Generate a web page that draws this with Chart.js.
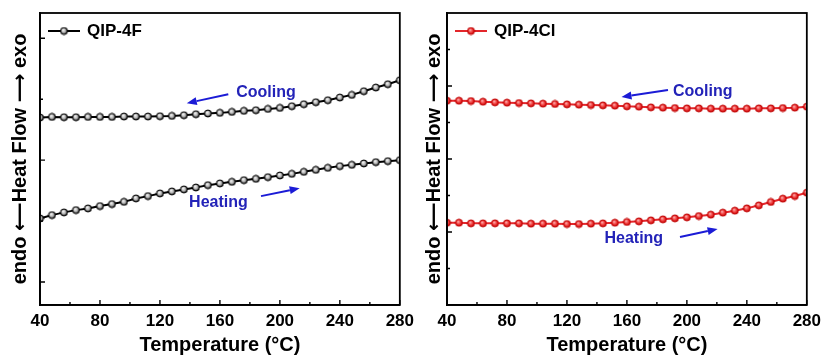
<!DOCTYPE html>
<html><head><meta charset="utf-8">
<script src="https://cdn.jsdelivr.net/npm/chart.js@4.4.0/dist/chart.umd.min.js"></script>
<style>
html,body{margin:0;padding:0;background:#fff;width:827px;height:358px;overflow:hidden}
.box{position:absolute;top:0;height:358px}
#b1{left:0;width:420px}
#b2{left:415px;width:412px}
</style></head><body>
<div class="box" id="b1"><canvas id="c1"></canvas></div>
<div class="box" id="b2"><canvas id="c2"></canvas></div>
<script>
// ---------- data (y in arbitrary heat-flow units) ----------
const temperatures = [40,48,56,64,72,80,88,96,104,112,120,128,136,144,152,160,168,176,184,192,200,208,216,224,232,240,248,256,264,272,280];

const qip4fCooling = [3.700,3.710,3.705,3.705,3.710,3.710,3.710,3.716,3.716,3.716,3.721,3.726,3.738,3.754,3.766,3.776,3.792,3.809,3.820,3.841,3.857,3.885,3.918,3.951,3.984,4.028,4.071,4.131,4.192,4.246,4.311];
const qip4fHeating = [2.044,2.098,2.143,2.180,2.208,2.246,2.279,2.316,2.372,2.410,2.454,2.487,2.520,2.552,2.590,2.618,2.644,2.672,2.693,2.721,2.749,2.775,2.808,2.841,2.874,2.902,2.923,2.946,2.967,2.984,3.000];

const qip4clCooling = [5.597,5.597,5.589,5.570,5.553,5.543,5.534,5.525,5.516,5.507,5.498,5.489,5.479,5.470,5.461,5.443,5.434,5.415,5.406,5.397,5.388,5.388,5.379,5.379,5.379,5.379,5.388,5.388,5.397,5.406,5.434];
const qip4clHeating = [2.255,2.255,2.237,2.237,2.237,2.237,2.237,2.228,2.228,2.228,2.219,2.219,2.228,2.237,2.255,2.274,2.292,2.320,2.347,2.374,2.402,2.438,2.475,2.530,2.584,2.648,2.731,2.822,2.913,2.986,3.078];

const seriesNames = ['QIP-4F', 'QIP-4Cl'];
const xTickValues = [40,80,120,160,200,240,280];
const xMinorTickValues = [60,100,140,180,220,260];
const leftYMajor = [1,3,5];
const leftYMinor = [2,4];
const rightYMajor = [2,4,6];
const rightYMinor = [1,3,5,7];
const xAxisTitle = 'Temperature (°C)';
const yAxisTitle = 'endo ⟵Heat Flow ⟶ exo';

// annotations in data units
const leftNotes = [{text:'Cooling', x:190.7, y:4.115}, {text:'Heating', x:159, y:2.311}];
const leftArrows = [{x1:165.6, y1:4.082, x2:137.9, y2:3.934}, {x1:187.4, y1:2.41, x2:213.2, y2:2.541}];
const rightNotes = [{text:'Cooling', x:210.6, y:5.836}, {text:'Heating', x:164.6, y:1.808}];
const rightArrows = [{x1:187.4, y1:5.89, x2:156.4, y2:5.70}, {x1:195.4, y1:1.863, x2:220.5, y2:2.082}];

// ---------- styling ----------
const FONT = '"Liberation Sans", Arial, "DejaVu Sans", sans-serif';
const BLUE_TEXT = '#2323b8';
const BLUE_ARROW = '#1b1bd6';

function sphere(edge, mid, hi, r) {
  const s = Math.ceil(r * 2) + 2;
  const c = document.createElement('canvas');
  c.width = s; c.height = s;
  const g = c.getContext('2d');
  const cx = s / 2, cy = s / 2;
  const grad = g.createRadialGradient(cx - r * 0.3, cy - r * 0.35, 0, cx, cy, r);
  grad.addColorStop(0, hi);
  grad.addColorStop(0.6, mid);
  grad.addColorStop(1, edge);
  g.fillStyle = grad;
  g.beginPath(); g.arc(cx, cy, r, 0, Math.PI * 2); g.fill();
  g.strokeStyle = edge; g.lineWidth = 1; g.stroke();
  return c;
}

function toPts(ys) { return temperatures.map((t, i) => ({x: t, y: ys[i]})); }

function decorPlugin(cfg) {
  return {
    id: 'decor',
    afterDatasetsDraw(chart) {
      const ctx = chart.ctx, a = chart.chartArea;
      const xs = chart.scales.x, ys = chart.scales.y;
      ctx.save();
      // frame
      ctx.strokeStyle = '#000'; ctx.lineWidth = 1.8;
      ctx.strokeRect(a.left, a.top, a.right - a.left, a.bottom - a.top);
      // ticks (inward)
      ctx.lineWidth = 1.4;
      ctx.beginPath();
      xTickValues.forEach(v => { const p = xs.getPixelForValue(v); ctx.moveTo(p, a.bottom); ctx.lineTo(p, a.bottom - 5); });
      xMinorTickValues.forEach(v => { const p = xs.getPixelForValue(v); ctx.moveTo(p, a.bottom); ctx.lineTo(p, a.bottom - 3); });
      cfg.yMajor.forEach(v => { const p = ys.getPixelForValue(v); ctx.moveTo(a.left, p); ctx.lineTo(a.left + 5, p); });
      cfg.yMinor.forEach(v => { const p = ys.getPixelForValue(v); ctx.moveTo(a.left, p); ctx.lineTo(a.left + 3, p); });
      ctx.stroke();
      // legend
      const ly = a.top + 18;
      ctx.strokeStyle = cfg.color; ctx.lineWidth = 2;
      ctx.beginPath(); ctx.moveTo(a.left + 8, ly); ctx.lineTo(a.left + 40, ly); ctx.stroke();
      ctx.drawImage(cfg.marker, a.left + 24 - cfg.marker.width / 2, ly - cfg.marker.height / 2);
      ctx.fillStyle = '#000';
      ctx.font = 'bold 17px ' + FONT;
      ctx.textAlign = 'left'; ctx.textBaseline = 'middle';
      ctx.fillText(cfg.name, a.left + 47, ly);
      // annotations
      ctx.font = 'bold 16px ' + FONT;
      ctx.textAlign = 'center';
      ctx.fillStyle = BLUE_TEXT;
      cfg.notes.forEach(n => ctx.fillText(n.text, xs.getPixelForValue(n.x), ys.getPixelForValue(n.y)));
      ctx.strokeStyle = BLUE_ARROW; ctx.fillStyle = BLUE_ARROW; ctx.lineWidth = 2;
      cfg.arrows.forEach(ar => {
        const x1 = xs.getPixelForValue(ar.x1), y1 = ys.getPixelForValue(ar.y1);
        const x2 = xs.getPixelForValue(ar.x2), y2 = ys.getPixelForValue(ar.y2);
        const ang = Math.atan2(y2 - y1, x2 - x1);
        const hl = 10, hw = 4;
        const bx = x2 - hl * Math.cos(ang), by = y2 - hl * Math.sin(ang);
        ctx.beginPath(); ctx.moveTo(x1, y1); ctx.lineTo(bx, by); ctx.stroke();
        ctx.beginPath();
        ctx.moveTo(x2, y2);
        ctx.lineTo(bx + hw * Math.sin(ang), by - hw * Math.cos(ang));
        ctx.lineTo(bx - hw * Math.sin(ang), by + hw * Math.cos(ang));
        ctx.closePath(); ctx.fill();
      });
      ctx.restore();
    }
  };
}

function makeChart(id, cfg) {
  const ds = (data) => ({
    data: toPts(data), borderColor: cfg.color, borderWidth: 2,
    pointStyle: cfg.marker, pointRadius: 4, pointHoverRadius: 4,
    tension: 0, fill: false
  });
  return new Chart(document.getElementById(id), {
    type: 'line',
    data: { datasets: [Object.assign(ds(cfg.heating), {label: cfg.name}), Object.assign(ds(cfg.cooling), {label: cfg.name})] },
    options: {
      responsive: true, maintainAspectRatio: false, animation: false, devicePixelRatio: 1,
      layout: { padding: { top: 13, left: 0, right: cfg.padRight, bottom: 0 } },
      plugins: { legend: { display: false }, tooltip: { enabled: false } },
      scales: {
        x: {
          type: 'linear', min: 40, max: 280, position: 'bottom',
          afterBuildTicks(s) { s.ticks = xTickValues.map(v => ({value: v})); },
          grid: { display: false, drawTicks: false },
          border: { display: true, color: '#000', width: 1.8 },
          ticks: { color: '#000', font: { family: FONT, size: 17, weight: 'bold' }, padding: 6, maxRotation: 0, autoSkip: false },
          title: { display: true, text: xAxisTitle, color: '#000', font: { family: FONT, size: 20, weight: 'bold', lineHeight: 1 }, padding: { top: 0, bottom: 3 } },
          afterFit(s) { s.height = 53; }
        },
        y: {
          type: 'linear', min: cfg.yMin, max: cfg.yMax, position: 'left',
          grid: { display: false, drawTicks: false },
          border: { display: true, color: '#000', width: 1.8 },
          ticks: { display: false },
          title: { display: true, text: yAxisTitle, color: '#000', font: { family: FONT, size: 20, weight: 'bold', lineHeight: 1 }, padding: { top: cfg.titlePad, bottom: 0 } },
          afterFit(s) { s.width = cfg.yWidth; }
        }
      }
    },
    plugins: [decorPlugin(cfg)]
  });
}

const blackBall = sphere('#000000', '#b4b4b4', '#ffffff', 3.5);
const redBall = sphere('#c00000', '#f03a3a', '#ffc4c4', 3.5);

makeChart('c1', {
  name: seriesNames[0], color: '#000000', marker: blackBall,
  heating: qip4fHeating, cooling: qip4fCooling,
  yMin: 0.623, yMax: 5.415, yMajor: leftYMajor, yMinor: leftYMinor,
  notes: leftNotes, arrows: leftArrows,
  padRight: 17, yWidth: 40, titlePad: 10
});
makeChart('c2', {
  name: seriesNames[1], color: '#e3262b', marker: redBall,
  heating: qip4clHeating, cooling: qip4clCooling,
  yMin: 0, yMax: 8, yMajor: rightYMajor, yMinor: rightYMinor,
  notes: rightNotes, arrows: rightArrows,
  padRight: 17, yWidth: 32, titlePad: 9
});
</script>
</body></html>
